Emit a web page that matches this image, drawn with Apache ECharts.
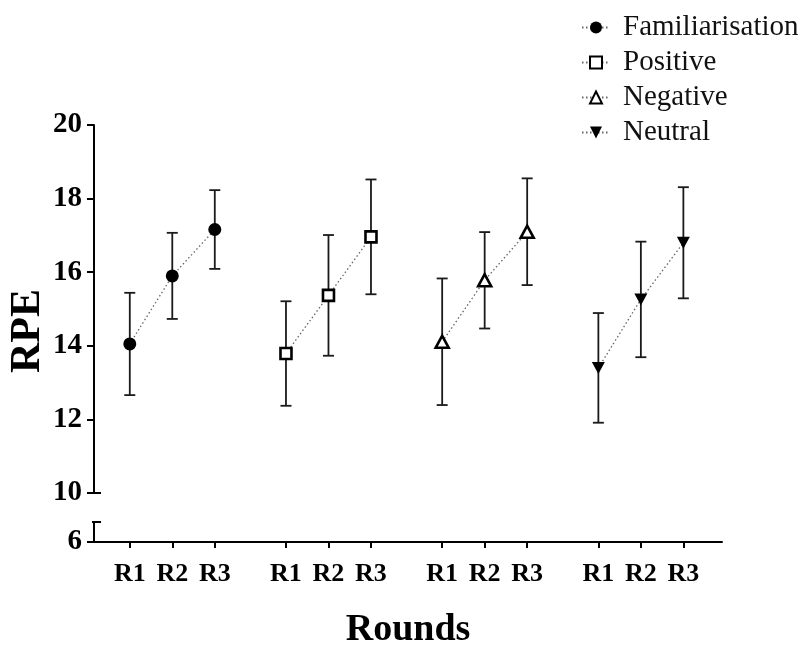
<!DOCTYPE html>
<html>
<head>
<meta charset="utf-8">
<script src="https://cdn.jsdelivr.net/npm/echarts@6/dist/echarts.min.js"></script>
<style>
  html, body { margin: 0; padding: 0; background: #fff; }
  #chart { width: 803px; height: 646px; }
</style>
</head>
<body>
<div id="chart"></div>
<script>
// Rating of perceived exertion across three rounds, per condition (mean ± SD)
const rounds = ['R1', 'R2', 'R3'];
const conditions = ['Familiarisation', 'Positive', 'Negative', 'Neutral'];

const familiarisationMean = [14.05, 15.90, 17.16];
const familiarisationSd   = [1.39, 1.17, 1.07];
const positiveMean        = [13.79, 15.37, 16.96];
const positiveSd          = [1.42, 1.64, 1.56];
const negativeMean        = [14.11, 15.78, 17.10];
const negativeSd          = [1.72, 1.31, 1.45];
const neutralMean         = [13.40, 15.26, 16.80];
const neutralSd           = [1.49, 1.57, 1.51];

const yTicksMain = [10, 12, 14, 16, 18, 20];
const yTickLow = 6;

const means = [familiarisationMean, positiveMean, negativeMean, neutralMean];
const sds = [familiarisationSd, positiveSd, negativeSd, neutralSd];

// Horizontal layout of the grouped rounds on a continuous x axis
const LEAD = 0.842;        // offset of the first round from the y axis
const GROUP_STEP = 3.675;  // distance between the first rounds of successive groups
const X_MAX = 14.776;
const xOf = (g, r) => LEAD + g * GROUP_STEP + r;

const tickPositions = [];
const tickNames = {};
conditions.forEach((c, g) => rounds.forEach((r, i) => {
  const x = xOf(g, i);
  tickPositions.push(x);
  tickNames[x.toFixed(3)] = r;
}));

// Lower stub of the broken axis keeps the same px-per-unit as the main part
const LOW_TOP = 6 + 20 / 36.8;

const SERIF = '"Liberation Serif", "Times New Roman", serif';
const INK = '#000';

const markerStyles = [
  { symbol: 'circle', symbolSize: 13, itemStyle: { color: INK } },
  { symbol: 'rect', symbolSize: 11, itemStyle: { color: '#fff', borderColor: INK, borderWidth: 2.6 } },
  { symbol: 'triangle', symbolSize: [13, 12], itemStyle: { color: '#fff', borderColor: INK, borderWidth: 2.6 } },
  { symbol: 'triangle', symbolSize: [13, 12], symbolRotate: 180, itemStyle: { color: INK } }
];

const lineSeries = conditions.map((name, g) => Object.assign({
  name,
  type: 'line',
  xAxisIndex: 0,
  yAxisIndex: 0,
  z: 5,
  data: means[g].map((m, i) => [xOf(g, i), m]),
  showSymbol: true,
  lineStyle: { type: [1.5, 2.5], color: '#666', width: 1.3 },
  emphasis: { disabled: true },
  animation: false
}, markerStyles[g]));

const errorData = [];
conditions.forEach((c, g) => means[g].forEach((m, i) => {
  errorData.push([xOf(g, i), m - sds[g][i], m + sds[g][i]]);
}));

const errStyle = { stroke: '#1a1a1a', lineWidth: 1.8 };
const errorSeries = {
  type: 'custom',
  name: 'sd',
  xAxisIndex: 0,
  yAxisIndex: 0,
  z: 3,
  data: errorData,
  encode: { x: 0, y: [1, 2] },
  animation: false,
  renderItem(params, api) {
    const x = api.value(0);
    const top = api.coord([x, api.value(2)]);
    const bot = api.coord([x, api.value(1)]);
    const hw = 5.5;
    return {
      type: 'group',
      children: [
        { type: 'line', shape: { x1: top[0], y1: top[1], x2: bot[0], y2: bot[1] }, style: errStyle },
        { type: 'line', shape: { x1: top[0] - hw, y1: top[1], x2: top[0] + hw, y2: top[1] }, style: errStyle },
        { type: 'line', shape: { x1: bot[0] - hw, y1: bot[1], x2: bot[0] + hw, y2: bot[1] }, style: errStyle }
      ]
    };
  }
};

const axisLineStyle = { color: INK, width: 2 };
const tickLabelStyle = { fontFamily: SERIF, fontWeight: 'bold', fontSize: 29, color: INK };

const option = {
  animation: false,
  backgroundColor: '#fff',
  grid: [
    { left: 94, right: 81, top: 125, height: 368, outerBoundsMode: 'none', containLabel: false },
    { left: 94, right: 81, top: 522, height: 20, outerBoundsMode: 'none', containLabel: false }
  ],
  xAxis: [
    { gridIndex: 0, type: 'value', min: 0, max: X_MAX, show: false },
    {
      gridIndex: 1, type: 'value', min: 0, max: X_MAX,
      axisLine: { lineStyle: axisLineStyle },
      splitLine: { show: false },
      axisTick: { customValues: tickPositions, length: 6, lineStyle: { color: INK, width: 2 } },
      axisLabel: {
        customValues: tickPositions,
        margin: 19,
        fontFamily: SERIF, fontWeight: 'bold', fontSize: 26, color: INK,
        formatter: v => tickNames[Number(v).toFixed(3)] || ''
      },
      name: 'Rounds',
      nameLocation: 'middle',
      nameGap: 69,
      nameMoveOverlap: false,
      nameTextStyle: { fontFamily: SERIF, fontWeight: 'bold', fontSize: 38, color: INK }
    }
  ],
  yAxis: [
    {
      gridIndex: 0, type: 'value', min: 10, max: 20, interval: 2,
      axisLine: { show: true, lineStyle: axisLineStyle },
      axisTick: { show: true, length: 7, lineStyle: { color: INK, width: 2 } },
      axisLabel: Object.assign({ margin: 12, customValues: yTicksMain }, tickLabelStyle),
      splitLine: { show: false }
    },
    {
      // inner half of the cap that closes the upper axis segment
      gridIndex: 0, type: 'value', min: 10, max: 20, position: 'left',
      axisLine: { show: false },
      axisTick: { show: true, inside: true, length: 7, customValues: [10], lineStyle: { color: INK, width: 2 } },
      axisLabel: { show: false },
      splitLine: { show: false }
    },
    {
      gridIndex: 1, type: 'value', min: 6, max: LOW_TOP,
      axisLine: { show: true, lineStyle: axisLineStyle },
      axisTick: { show: true, length: 7, customValues: [yTickLow], lineStyle: { color: INK, width: 2 } },
      axisLabel: Object.assign({ margin: 12, customValues: [yTickLow] }, tickLabelStyle),
      splitLine: { show: false }
    },
    {
      // cap on top of the lower axis segment
      gridIndex: 1, type: 'value', min: 6, max: LOW_TOP, position: 'left',
      axisLine: { show: false },
      axisTick: { show: true, inside: true, length: 7, customValues: [LOW_TOP], lineStyle: { color: INK, width: 2 } },
      axisLabel: { show: false },
      splitLine: { show: false }
    },
    {
      gridIndex: 1, type: 'value', min: 6, max: LOW_TOP, position: 'left',
      axisLine: { show: false },
      axisTick: { show: true, length: 2, customValues: [LOW_TOP], lineStyle: { color: INK, width: 2 } },
      axisLabel: { show: false },
      splitLine: { show: false }
    }
  ],
  legend: {
    orient: 'vertical',
    left: 576,
    top: 8,
    itemWidth: 28,
    itemHeight: 15,
    itemGap: 6,
    selectedMode: false,
    data: conditions,
    textStyle: { fontFamily: SERIF, fontSize: 29, color: '#111', padding: [0, 0, 0, 8] }
  },
  graphic: [
    {
      type: 'text',
      x: 28, y: 331,
      rotation: Math.PI / 2,
      style: {
        text: 'RPE',
        font: 'bold 42px "Liberation Serif", "Times New Roman", serif',
        fill: INK,
        align: 'center',
        verticalAlign: 'middle'
      }
    }
  ],
  series: [errorSeries].concat(lineSeries)
};

const chart = echarts.init(document.getElementById('chart'), null, { renderer: 'canvas' });
chart.setOption(option);
</script>
</body>
</html>
